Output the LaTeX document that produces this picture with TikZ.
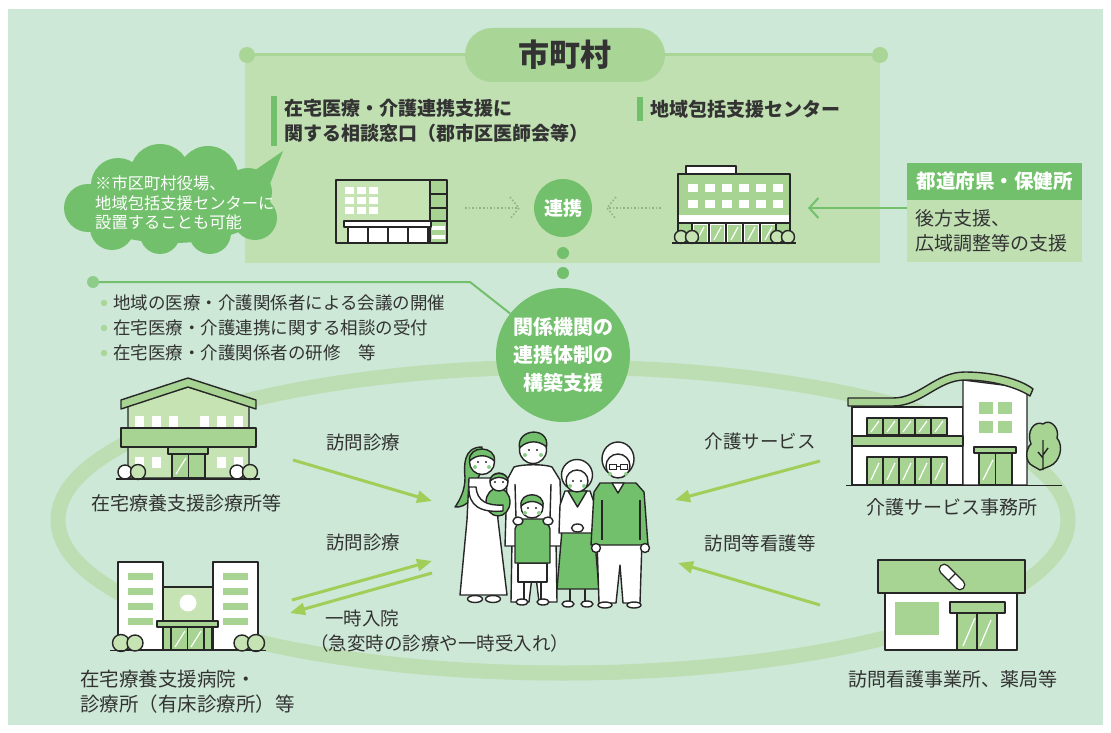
\documentclass[tikz,border=0pt]{standalone}
\usepackage{fontspec}
\setmainfont{Noto Sans CJK JP}
\usetikzlibrary{arrows.meta,calc}

\definecolor{bgmint}{HTML}{CDE8D6}
\definecolor{panelg}{HTML}{C0E0B2}
\definecolor{paleg}{HTML}{A9D596}
\definecolor{midg}{HTML}{72C06C}
\definecolor{bldlight}{HTML}{C5E3B3}
\definecolor{bldmid}{HTML}{A7D492}
\definecolor{limeg}{HTML}{A0CE58}
\definecolor{ringg}{HTML}{BCDEB2}
\definecolor{ink}{HTML}{333333}
\definecolor{outl}{HTML}{262626}

\tikzset{
  ol/.style={draw=outl, line width=1.4pt, line join=round},
  lbl/.style={text=ink, inner sep=0pt, font=\fontsize{19}{25}\selectfont},
  small/.style={text=ink, inner sep=0pt, font=\fontsize{17.5}{25}\selectfont},
  headtxt/.style={text=ink, inner sep=0pt, font=\bfseries\fontsize{19}{25}\selectfont},
  cdot/.style={circle, fill=paleg, inner sep=0pt, minimum size=16pt},
  gdot/.style={circle, fill=midg, inner sep=0pt, minimum size=12pt},
  flow/.style={limeg, line width=3pt, -{Triangle[length=15pt,width=12pt]}},
  dots/.style={draw=paleg!85!black, line width=1.6pt, dotted},
  glass/.style={white, line width=1.2pt},
}

\begin{document}
\begin{tikzpicture}[x=1pt,y=-1pt]
\useasboundingbox (0,0) rectangle (1111,733);
\fill[white] (0,0) rectangle (1111,733);
\fill[bgmint] (8,9) rectangle (1103,725);

% ---------- ring of the local network ----------
\draw[ringg, line width=15pt] (563,520) ellipse [x radius=505, y radius=153];

% ---------- municipality panel ----------
\fill[panelg] (245,55) rectangle (880,263);
\node[cdot] (dL) at (247,55) {};
\node[cdot] (dR) at (880,55) {};
\draw[paleg, line width=3pt] (dL) -- (dR);
\node[fill=paleg, rounded corners=27pt, minimum width=200pt, minimum height=54pt,
      text=ink, font=\bfseries\fontsize{31}{34}\selectfont] (city) at (565,55) {市町村};

\fill[midg] (271,96) rectangle (277,146);
\node[headtxt, anchor=west, align=left] (consult) at (284,121)
  {在宅医療・介護連携支援に\\関する相談窓口（郡市区医師会等）};
\fill[midg] (637,97) rectangle (643,121);
\node[headtxt, anchor=west] (center) at (650,109) {地域包括支援センター};

% consultation office building
\draw[ol, fill=bldlight] (336,180) rectangle (430,243);
\foreach \cx in {345,357,369}
  \foreach \cy in {187,197,207}
    \fill[white] (\cx,\cy) rectangle ++(9,7);
\draw[ol, fill=bldmid] (430,180) rectangle (447,243);
\draw[ol] (430,194) -- (447,194) (430,208) -- (447,208) (430,221) -- (447,221);
\fill[white] (432,226) rectangle (445,230);
\fill[white] (432,235) rectangle (445,239);
\draw[ol, fill=white] (344,221) rectangle (431,227);
\draw[ol, fill=white] (348,227) rectangle (428,243);
\draw[ol] (368,227) -- (368,243) (388,227) -- (388,243) (408,227) -- (408,243);

% community support center building
\draw[ol, fill=white] (686,166) rectangle (736,174);
\draw[ol, fill=bldmid] (678,174) rectangle (790,243);
\foreach \cx in {688,705,722,739,756,773}{
  \fill[white] (\cx,184) rectangle ++(10,8);
  \fill[white] (\cx,200) rectangle ++(10,8);
}
\fill[white] (679,215) rectangle (789,223);
\draw[ol] (678,223) -- (790,223);
\draw[ol, fill=white] (692,223) rectangle (776,243);
\foreach \cx in {709,726,743,760} \draw[ol] (\cx,223) -- (\cx,243);
\foreach \cx in {694,711,728,745,762}{
  \fill[bldmid] (\cx,225) rectangle ++(13,18);
  \draw[glass] (\cx+3,240) -- (\cx+10,227);
}
\draw[ol, fill=bldlight] (681,237) circle (6.5);
\draw[ol, fill=bldlight] (692,237) circle (6.5);
\draw[ol, fill=bldlight] (777,237) circle (6.5);
\draw[ol, fill=bldlight] (788,237) circle (6.5);
\draw[ol] (672,243) -- (796,243);

% cooperation between the two
\node[circle, fill=midg, minimum size=58pt, inner sep=0pt, text=white,
      font=\bfseries\fontsize{19}{22}\selectfont] (coop) at (563,208) {連携};
\coordinate (dA1) at (465,208);
\coordinate (dA2) at (519,208);
\draw[dots] (dA1) -- (dA2);
\draw[dots] ($(dA2)+(-9,-11)$) -- (dA2) -- ($(dA2)+(-9,11)$);
\coordinate (dB1) at (661,208);
\coordinate (dB2) at (607,208);
\draw[dots] (dB1) -- (dB2);
\draw[dots] ($(dB2)+(9,-11)$) -- (dB2) -- ($(dB2)+(9,11)$);

% note cloud
\fill[midg] (172,205) ellipse [x radius=95, y radius=38]
  (118,185) circle (27) (160,174) circle (30) (208,176) circle (30) (248,192) circle (24)
  (88,208) circle (24) (112,228) circle (22) (160,234) circle (20) (210,233) circle (21)
  (255,218) circle (22);
\fill[midg] (238,182) -- (283,151) -- (262,204) -- cycle;
\node[anchor=west, align=left, text=white, inner sep=0pt,
      font=\fontsize{16.3}{19.5}\selectfont] (note) at (95,203)
  {※市区町村役場、\\地域包括支援センターに\\設置することも可能};

% prefecture box
\node[fill=midg, minimum width=175pt, minimum height=37pt, inner sep=0pt,
      text=white, font=\bfseries\fontsize{19.5}{22}\selectfont] (pref) at (994.5,181.5) {都道府県・保健所};
\node[fill=panelg, minimum width=175pt, minimum height=62pt, inner sep=0pt,
      anchor=north] (prefbody) at (pref.south) {};
\node[anchor=west, align=left, text=ink, inner sep=0pt,
      font=\fontsize{19}{25}\selectfont] (preftxt) at (915,231) {後方支援、\\広域調整等の支援};
\coordinate (prefTip) at (808,208);
\draw[midg, line width=2pt, -{Straight Barb[length=9pt,width=20pt,line width=2pt]}]
  (prefbody.west |- prefTip) -- (prefTip);

% link down to the support circle
\node[gdot] (c1) at (563,253) {};
\node[gdot] (c2) at (563,273) {};
\node[circle, fill=midg, minimum size=134pt, inner sep=0pt, text=white, align=center,
      font=\bfseries\fontsize{20}{28}\selectfont] (support) at (563,355)
  {関係機関の\\連携体制の\\構築支援};
\node[cdot, minimum size=12pt, fill=midg!80] (ld) at (93,282) {};
\coordinate (lk) at (470,282);
\draw[midg, line width=2pt] (ld) -- (lk) -- (support);

% task list
\foreach \yy in {303,328,353} \fill[paleg] (104,\yy) circle (3.2);
\node[small, anchor=west] (t1) at (113,303) {地域の医療・介護関係者による会議の開催};
\node[small, anchor=west] (t2) at (113,328) {在宅医療・介護連携に関する相談の受付};
\node[small, anchor=west] (t3) at (113,353) {在宅医療・介護関係者の研修　等};

% ---------- home-care clinic ----------
\draw[ol, fill=bldlight] (128,405) -- (188,387) -- (249,405) -- (249,478) -- (128,478) -- cycle;
\draw[ol, fill=bldmid] (121,400) -- (188,378) -- (256,400) -- (256,409) -- (188,387) -- (121,409) -- cycle;
\foreach \cx in {135,152,169,200,217,234} \fill[white] (\cx,416) rectangle ++(9,11);
\draw[ol, fill=bldmid] (121,428) rectangle (256,447);
\draw[ol, fill=bldmid] (168,447) rectangle (208,454);
\draw[ol, fill=bldmid] (172,454) rectangle (205,478);
\draw[ol] (188.5,454) -- (188.5,478);
\draw[glass] (176,474) -- (186,458);
\foreach \cx in {135,152,217,234} \fill[white] (\cx,457) rectangle ++(9,11);
\draw[ol, fill=white] (125,472) circle (7);
\draw[ol, fill=bldlight] (138,472) circle (7.5);
\draw[ol, fill=white] (237,472) circle (7);
\draw[ol, fill=bldlight] (250,472) circle (7.5);
\draw[ol] (116,479) -- (260,479);
\node[lbl] (lblC) at (186,503) {在宅療養支援診療所等};

% ---------- hospital ----------
\draw[ol, fill=bldlight] (163,587) rectangle (213,650);
\fill[white] (188,603) circle (8.5);
\draw[ol, fill=white] (118,562) rectangle (163,650);
\draw[ol, fill=white] (213,562) rectangle (258,650);
\foreach \yy in {573,588,603,618}{
  \fill[bldmid] (128,\yy) rectangle ++(25,7);
  \fill[bldmid] (223,\yy) rectangle ++(25,7);
}
\draw[ol, fill=bldmid] (157,621) rectangle (218,627);
\draw[ol, fill=bldmid] (163,627) rectangle (212,650);
\draw[ol] (171,627) -- (171,650) (187.5,627) -- (187.5,650) (204,627) -- (204,650);
\draw[glass] (175,647) -- (185,631) (191,647) -- (201,631);
\draw[ol, fill=bldlight] (121,643) circle (8.5);
\draw[ol, fill=bldlight] (135,643) circle (8);
\draw[ol, fill=bldlight] (242,643) circle (8);
\draw[ol, fill=bldlight] (256,643) circle (8.5);
\draw[ol] (110,650.5) -- (266,650.5);
\node[lbl, anchor=west, align=left, font=\fontsize{19.5}{25}\selectfont] (lblD) at (80,692)
  {在宅療養支援病院・\\診療所（有床診療所）等};

% ---------- care service office ----------
\draw[ol, fill=white] (852,407) rectangle (963,485);
\draw[ol, fill=white] (963,380) -- (1027,388) -- (1027,485) -- (963,485) -- cycle;
\draw[ol, fill=bldmid] (848,398) -- (893,398) .. controls (920,398) and (935,372) .. (965,372)
  .. controls (995,372) and (1022,380) .. (1033,389) -- (1030,396)
  .. controls (1018,388) and (993,380) .. (965,380)
  .. controls (938,380) and (922,406) .. (893,406) -- (848,406) -- cycle;
\foreach \cx in {867,883,899,915,931}{
  \draw[ol, fill=bldmid] (\cx,418) rectangle ++(16,17);
  \draw[glass] (\cx+4,432) -- (\cx+12,421);
  \draw[ol, fill=bldmid] (\cx,457) rectangle ++(16,28);
  \draw[glass] (\cx+4,480) -- (\cx+12,463);
}
\draw[ol, fill=bldmid] (852,436) rectangle (963,446);
\foreach \cx/\cy in {979/402,998/402,979/421,998/421} \fill[bldmid] (\cx,\cy) rectangle ++(14,12);
\draw[ol, fill=bldmid] (974,447) rectangle (1016,453);
\draw[ol, fill=bldmid] (979,453) rectangle (1012,485);
\draw[ol] (995.5,453) -- (995.5,485);
\draw[glass] (983,480) -- (993,460);
\draw[ol, fill=bldmid] (1040,470) -- (1033,466) .. controls (1024,462) and (1026,448) .. (1031,444)
  .. controls (1026,432) and (1034,420) .. (1043,424)
  .. controls (1050,418) and (1060,428) .. (1057,438)
  .. controls (1064,446) and (1060,462) .. (1050,466) -- cycle;
\draw[ol] (1043,440) -- (1043,470) (1043,458) -- (1038,452) (1043,455) -- (1048,448);
\draw[ol] (846,485.5) -- (1062,485.5);
\node[lbl] (lblE) at (952,507) {介護サービス事務所};

% ---------- visiting nurse station / pharmacy ----------
\draw[ol, fill=white] (885,593) rectangle (1017,650);
\draw[ol, fill=bldmid] (878,560) rectangle (1025,593);
\begin{scope}[shift={(952,577)}, rotate=-45]
  \draw[ol, fill=white, line width=1.2pt] (-11,-5) -- (11,-5) arc[start angle=-90, end angle=90, radius=5]
    -- (-11,5) arc[start angle=90, end angle=270, radius=5] -- cycle;
  \draw[outl, line width=1.2pt] (0,-5) -- (0,5);
\end{scope}
\fill[bldmid] (895,602) rectangle (939,635);
\draw[ol, fill=bldmid] (950,602) rectangle (1005,613);
\draw[ol, fill=bldmid] (957,613) rectangle (997,650);
\draw[ol] (977,613) -- (977,650);
\draw[glass] (963,646) -- (975,618) (980,646) -- (991,620);
\node[lbl] (lblF) at (953,679) {訪問看護事業所、薬局等};

% ---------- service flows ----------
\coordinate (a1s) at (293,460); \coordinate (a1e) at (432,501);
\coordinate (a2s) at (292,600); \coordinate (a2e) at (432,561);
\coordinate (a3s) at (432,573); \coordinate (a3e) at (290,613);
\coordinate (a4s) at (820,461); \coordinate (a4e) at (675,500);
\coordinate (a5s) at (820,605); \coordinate (a5e) at (678,563);
\draw[flow] (a1s) -- (a1e);
\draw[flow] (a2s) -- (a2e);
\draw[flow] (a3s) -- (a3e);
\draw[flow] (a4s) -- (a4e);
\draw[flow] (a5s) -- (a5e);
\node[lbl, font=\fontsize{18.5}{24}\selectfont] (f1) at (363,442) {訪問診療};
\node[lbl, font=\fontsize{18.5}{24}\selectfont] (f2) at (363,542) {訪問診療};
\node[lbl, font=\fontsize{18.5}{25}\selectfont, anchor=west, align=left] (f3) at (310,631)
  {\hspace{15pt}一時入院\\（急変時の診療や一時受入れ）};
\node[lbl, font=\fontsize{18.5}{24}\selectfont] (f4) at (760,441) {介護サービス};
\node[lbl, font=\fontsize{18.5}{24}\selectfont] (f5) at (760,543) {訪問等看護等};

% ---------- family ----------
% father
\draw[ol, fill=white] (512,540) -- (556,540) -- (557,602) -- (539,602) -- (534,560) -- (529,602) -- (511,602) -- cycle;
\draw[ol, fill=white] (514,467) .. controls (522,464) and (545,464) .. (552,467) -- (560,480) -- (562,546) -- (505,546) -- (507,480) -- cycle;
\draw[ol] (515,484) -- (516,518) (551,484) -- (550,518);
\draw[ol, fill=white] (533,450) circle (13.5);
\draw[ol, fill=midg] (519.5,448) .. controls (516,428) and (550,426) .. (546.5,447) .. controls (539,440) and (527,440) .. (519.5,448) -- cycle;
% mother
\draw[ol, fill=midg] (482,447) .. controls (463,447) and (464,466) .. (465,478) .. controls (465,490) and (460,500) .. (455,507)
  .. controls (467,508) and (476,496) .. (476,482) -- (482,470) -- cycle;
\draw[ol, fill=white] (469,478) -- (495,478) -- (498,520) -- (507,595) -- (460,595) -- (467,520) -- cycle;
\draw[ol, fill=white] (482,462) circle (12.5);
\draw[ol, fill=midg] (469.5,461) .. controls (468,445) and (496,445) .. (494.5,461) .. controls (487,454) and (477,454) .. (469.5,461) -- cycle;
\draw[ol, fill=midg] (498,502) ellipse [x radius=12, y radius=14];
\draw[ol, fill=white] (499,482) circle (9);
\draw[ol, fill=midg] (490,481) .. controls (490,471) and (508,471) .. (508,481) .. controls (502,476) and (496,476) .. (490,481) -- cycle;
\draw[ol, fill=white] (469,487) .. controls (468,506) and (481,513) .. (503,511) -- (503,505) .. controls (487,506) and (477,501) .. (476,487) -- cycle;
\draw[ol, fill=white] (475,599) ellipse [x radius=7.5, y radius=3.5];
\draw[ol, fill=white] (493,599) ellipse [x radius=7.5, y radius=3.5];
% boy
\draw[ol] (524,582) -- (524,600) (541,582) -- (541,600);
\draw[ol, fill=white] (522,602) ellipse [x radius=6, y radius=3];
\draw[ol, fill=white] (543,602) ellipse [x radius=6, y radius=3];
\draw[ol, fill=white] (518,563) rectangle (547,582);
\draw[ol, fill=midg] (519,519) -- (546,519) -- (550,529) -- (550,563) -- (515,563) -- (515,529) -- cycle;
\draw[ol, fill=white] (532,507) circle (11);
\draw[ol, fill=midg] (521,506) .. controls (519,491) and (545,491) .. (543,506) .. controls (536,500) and (528,500) .. (521,506) -- cycle;
\draw[ol, fill=white] (518,521) ellipse [x radius=5, y radius=4];
\draw[ol, fill=white] (548,521) ellipse [x radius=5, y radius=4];
% grandmother
\draw[ol] (570,588) -- (570,602) (585,588) -- (585,602);
\draw[ol, fill=white] (568,604) ellipse [x radius=6, y radius=3];
\draw[ol, fill=white] (587,604) ellipse [x radius=6, y radius=3];
\draw[ol, fill=midg] (562,530) -- (594,530) -- (599,589) -- (557,589) -- cycle;
\draw[ol, fill=white] (565,491) -- (590,491) -- (595,505) -- (596,533) -- (559,533) -- (560,505) -- cycle;
\draw[ol, fill=midg] (568,491) -- (587,491) -- (577.5,507) -- cycle;
\draw[ol, fill=white] (577.5,528) ellipse [x radius=6, y radius=4];
\draw[ol, fill=white] (577,475) circle (15.5);
\draw[ol, fill=white] (577,481) circle (11);
% grandfather
\draw[ol, fill=white] (597,540) -- (642,540) -- (640,603) -- (623,603) -- (620,565) -- (616,603) -- (599,603) -- cycle;
\draw[ol, fill=white] (605,605) ellipse [x radius=7, y radius=3];
\draw[ol, fill=white] (634,605) ellipse [x radius=7, y radius=3];
\draw[ol, fill=midg] (600,483) -- (636,483) -- (644,492) -- (648,545) -- (591,545) -- (594,492) -- cycle;
\draw[ol] (602,500) -- (602,540) (640,500) -- (640,540);
\draw[ol, fill=white] (612,483) -- (624,483) -- (618,493) -- cycle;
\draw[ol, fill=white] (596,548) circle (4.5);
\draw[ol, fill=white] (645,548) circle (4.5);
\draw[ol, fill=white] (618,459) ellipse [x radius=16, y radius=17];
\draw[ol, fill=white] (618,466) circle (12);
\draw[outl, line width=1pt] (609,464) rectangle (616,469) (620,464) rectangle (627,469) (616,466) -- (620,466);
% faces
\foreach \ex/\ey in {478/462,486/462,529/450,537/450,528/508,536/508,573/481,581/481,495/482,503/482}
  \fill[outl] (\ex,\ey) circle (1.1);
\foreach \cx/\cy in {475/467,489/467,525/455,541/455,525/513,539/513,570/486,584/486,610/474,626/474}
  \fill[midg!80] (\cx,\cy) circle (2);
\end{tikzpicture}
\end{document}
